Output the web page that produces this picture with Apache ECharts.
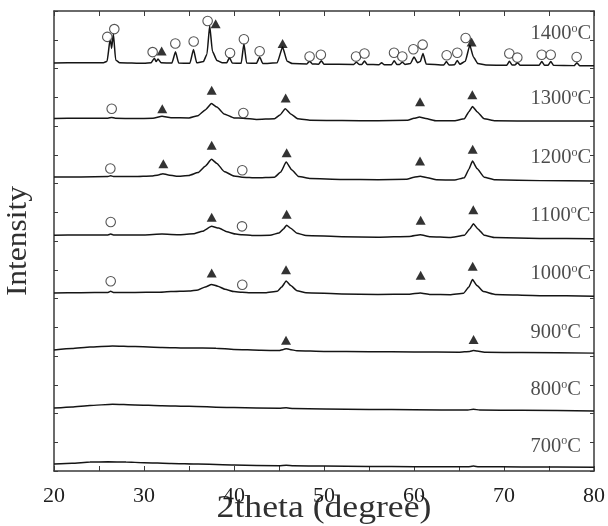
<!DOCTYPE html>
<html>
<head>
<meta charset="utf-8">
<script src="https://cdn.jsdelivr.net/npm/echarts@6/dist/echarts.min.js"></script>
<style>
  html, body { margin: 0; padding: 0; background: #fff; }
  #chart { width: 608px; height: 526px; }
</style>
</head>
<body>
<div id="chart"></div>
<script>
// XRD patterns of the samples calcined at 700–1400 °C, stacked with vertical offsets.
const temperatures = ['700', '800', '900', '1000', '1100', '1200', '1300', '1400'];

// [2θ, offset intensity] for each pattern
const xrd700 = [[20,0.24],[22,0.27],[24,0.31],[26,0.32],[28,0.31],[30,0.29],[33,0.26],[36,0.24],[40,0.21],[45,0.18],[45.8,0.2],[46.6,0.18],[50,0.17],[55,0.16],[60,0.15],[66,0.15],[66.6,0.17],[67.2,0.15],[72,0.14],[80,0.13]];
const xrd800 = [[20,2.19],[22,2.23],[24,2.28],[26.5,2.32],[29,2.3],[32,2.27],[35,2.25],[40,2.21],[45,2.18],[45.8,2.2],[46.6,2.17],[50,2.16],[55,2.14],[60,2.13],[66,2.12],[66.6,2.15],[67.3,2.12],[72,2.11],[80,2.09]];
const xrd900 = [[20,4.21],[22,4.26],[24,4.31],[26.5,4.35],[29,4.33],[32,4.3],[35,4.28],[38,4.27],[40,4.23],[43,4.2],[45,4.19],[45.5,4.23],[45.8,4.25],[46.2,4.23],[47,4.18],[50,4.16],[55,4.15],[60,4.14],[65,4.13],[66.2,4.16],[66.6,4.19],[67,4.17],[68,4.13],[72,4.12],[80,4.1]];
const xrd1000 = [[20,6.19],[23,6.2],[26,6.21],[26.3,6.25],[26.6,6.21],[29,6.21],[31.5,6.22],[33,6.24],[35,6.26],[36,6.3],[36.8,6.4],[37.5,6.49],[38.2,6.43],[39,6.32],[40,6.24],[40.9,6.22],[41.8,6.2],[43.5,6.2],[44.8,6.25],[45.3,6.4],[45.8,6.61],[46.3,6.45],[47,6.27],[48,6.2],[52,6.16],[56,6.14],[59.5,6.15],[60.7,6.19],[61.8,6.14],[64,6.13],[65.5,6.18],[66.1,6.4],[66.5,6.66],[67,6.45],[67.7,6.24],[69,6.14],[74,6.1],[80,6.08]];
const xrd1100 = [[20,8.2],[23,8.21],[26,8.21],[26.3,8.24],[26.6,8.21],[30,8.21],[32,8.24],[34,8.22],[35.5,8.25],[36.5,8.34],[37.5,8.51],[38.3,8.45],[39.2,8.32],[40.2,8.24],[40.9,8.22],[42,8.19],[44,8.2],[45,8.28],[45.5,8.42],[45.85,8.55],[46.3,8.44],[47,8.27],[48,8.19],[52,8.15],[56,8.13],[59.5,8.16],[60.7,8.22],[61.8,8.15],[64,8.12],[65.6,8.2],[66.2,8.42],[66.6,8.6],[67.1,8.42],[67.8,8.2],[69,8.12],[74,8.09],[80,8.08]];
const xrd1200 = [[20,10.23],[23,10.23],[26,10.24],[26.3,10.27],[26.6,10.24],[29,10.24],[30.8,10.26],[31.6,10.3],[32.1,10.34],[32.7,10.3],[33.6,10.25],[35,10.28],[36,10.38],[36.8,10.6],[37.5,10.84],[38.1,10.7],[38.9,10.42],[40,10.26],[40.9,10.22],[42.5,10.2],[44.5,10.22],[45.2,10.4],[45.8,10.75],[46.4,10.48],[47.2,10.24],[48.5,10.17],[52,10.14],[56,10.13],[59.2,10.15],[60,10.22],[60.7,10.25],[61.5,10.2],[62.5,10.13],[64.5,10.12],[65.6,10.2],[66.1,10.5],[66.5,10.78],[67,10.52],[67.8,10.22],[69,10.13],[74,10.1],[80,10.09]];
const xrd1300 = [[20,12.26],[23,12.27],[26,12.27],[26.4,12.3],[26.8,12.27],[29,12.26],[31,12.27],[32,12.34],[33,12.29],[35,12.28],[36,12.36],[36.8,12.56],[37.5,12.78],[38.1,12.66],[38.9,12.42],[40,12.28],[41,12.27],[42.5,12.23],[44.5,12.25],[45.1,12.38],[45.7,12.6],[46.3,12.42],[47.1,12.25],[48.5,12.2],[52,12.19],[56,12.18],[59.3,12.2],[60,12.27],[60.6,12.31],[61.3,12.26],[62.5,12.18],[64.5,12.18],[65.6,12.25],[66.1,12.5],[66.5,12.68],[67,12.5],[67.8,12.25],[69,12.18],[74,12.17],[80,12.17]];
const xrd1400 = [[20,14.19],[23,14.2],[25.5,14.2],[25.9,14.25],[26.25,15.05],[26.4,14.7],[26.6,15.2],[26.85,14.3],[27.3,14.2],[30,14.18],[30.8,14.2],[31.15,14.36],[31.35,14.24],[31.55,14.33],[31.9,14.2],[33.1,14.19],[33.5,14.58],[33.85,14.19],[35.1,14.18],[35.5,14.66],[35.85,14.2],[36.6,14.24],[37.0,14.5],[37.3,15.5],[37.6,14.6],[38.1,14.28],[38.7,14.2],[39.2,14.2],[39.5,14.38],[39.8,14.19],[40.8,14.18],[41.1,14.87],[41.4,14.19],[42.5,14.18],[42.85,14.4],[43.2,14.17],[44.8,14.2],[45.4,14.75],[45.9,14.25],[46.5,14.17],[48.1,14.16],[48.4,14.25],[48.7,14.16],[49.4,14.15],[49.7,14.27],[50,14.15],[53.3,14.14],[53.6,14.22],[53.9,14.14],[54.2,14.14],[54.5,14.26],[54.8,14.14],[56.1,14.13],[56.4,14.2],[56.7,14.13],[57.5,14.13],[57.8,14.27],[58.1,14.14],[58.4,14.14],[58.7,14.22],[59.0,14.14],[59.6,14.17],[60.0,14.4],[60.4,14.2],[60.7,14.24],[61.0,14.52],[61.35,14.16],[63.3,14.12],[63.6,14.24],[63.9,14.12],[64.5,14.13],[64.8,14.28],[65.1,14.15],[65.7,14.25],[66.2,14.81],[66.6,14.4],[67.1,14.17],[68,14.12],[70.3,14.11],[70.6,14.25],[70.9,14.12],[71.2,14.12],[71.5,14.2],[71.8,14.11],[73.9,14.11],[74.2,14.24],[74.5,14.11],[74.9,14.11],[75.2,14.24],[75.5,14.11],[77.8,14.1],[78.1,14.2],[78.4,14.1],[80,14.1]];

// phase markers: open circles and filled triangles placed above the reflections
const circleMarks = [
  [25.92,15.10],[26.7,15.37],[30.96,14.57],[33.48,14.87],[35.52,14.94],[37.07,15.65],[39.56,14.54],[41.1,15.02],[42.85,14.6],
  [48.4,14.42],[49.65,14.48],[53.56,14.42],[54.5,14.52],[57.78,14.55],[58.7,14.42],[59.93,14.67],[60.96,14.83],
  [63.63,14.46],[64.81,14.55],[65.74,15.06],[70.59,14.52],[71.48,14.38],[74.19,14.48],[75.19,14.48],[78.07,14.4],
  [26.41,12.6],[41.04,12.45],
  [26.26,10.52],[40.92,10.46],
  [26.3,8.66],[40.89,8.51],
  [26.3,6.6],[40.92,6.48]
];
const triangleMarks = [
  [31.96,14.61],[37.96,15.56],[45.4,14.87],[66.4,14.92],
  [32.03,12.6],[37.52,13.24],[45.74,12.97],[60.67,12.84],[66.48,13.09],
  [32.15,10.69],[37.52,11.33],[45.85,11.07],[60.67,10.78],[66.52,11.19],
  [37.52,8.83],[45.85,8.93],[60.74,8.72],[66.59,9.09],
  [37.52,6.89],[45.78,7.0],[60.74,6.81],[66.52,7.12],
  [45.78,4.55],[66.62,4.57]
];

const patterns = [xrd700, xrd800, xrd900, xrd1000, xrd1100, xrd1200, xrd1300, xrd1400];

const SERIF = '"Liberation Serif", "Times New Roman", serif';
const INK = '#151515';
const FRAME = '#3a3a3a';
const TEXT = '#1e1e1e';
const TITLE = '#303030';

// vertical placement of each temperature tag (in offset-intensity units)
const tagLevels = [0.86, 2.83, 4.83, 6.87, 8.9, 10.9, 12.95, 15.2];
const tagX = 72.95;

const GRID = { left: 54, right: 14, top: 11, bottom: 55 };
const W = 608, H = 526;

const chart = echarts.init(document.getElementById('chart'), null, { renderer: 'canvas' });

const series = patterns.map((d, i) => ({
  name: temperatures[i] + '°C',
  type: 'line',
  data: d,
  showSymbol: false,
  symbol: 'none',
  smooth: 0.15,
  smoothMonotone: 'x',
  lineStyle: { color: INK, width: 1.5 },
  silent: true,
  z: 2
}));

series.push({
  type: 'scatter',
  data: circleMarks,
  symbol: 'circle',
  symbolSize: 9.5,
  itemStyle: { color: '#fff', borderColor: '#2a2a2a', borderWidth: 1.1 },
  z: 4
});
series.push({
  type: 'scatter',
  data: triangleMarks,
  symbol: 'triangle',
  symbolSize: [10, 9],
  itemStyle: { color: '#000' },
  z: 4
});
series.push({
  type: 'scatter',
  data: temperatures.map((t, i) => ({ value: [tagX, tagLevels[i]], name: t })),
  symbolSize: 0,
  z: 5,
  label: {
    show: true,
    position: [0, 0],
    align: 'left',
    verticalAlign: 'middle',
    formatter: p => '{n|' + p.name + '}{o|o}{n|C}',
    rich: {
      n: { fontFamily: SERIF, fontSize: 20.5, lineHeight: 22, color: TEXT },
      o: { fontFamily: SERIF, fontSize: 12, lineHeight: 12, color: TEXT, verticalAlign: 'top' }
    }
  }
});

const xCommon = {
  type: 'value', min: 20, max: 80, interval: 5,
  axisLine: { show: true, onZero: false, lineStyle: { color: FRAME, width: 1.5 } },
  axisTick: { show: true, inside: true, length: 5, lineStyle: { color: FRAME, width: 1 } },
  splitLine: { show: false }
};
const yCommon = {
  type: 'value', min: 0, max: 16, interval: 1,
  axisLine: { show: true, onZero: false, lineStyle: { color: FRAME, width: 1.5 } },
  axisTick: { show: true, inside: true, length: 4, lineStyle: { color: FRAME, width: 1 } },
  axisLabel: { show: false },
  splitLine: { show: false }
};

const plotMidX = GRID.left + (W - GRID.left - GRID.right) / 2;
const plotMidY = GRID.top + (H - GRID.top - GRID.bottom) / 2;

chart.setOption({
  animation: false,
  backgroundColor: '#fff',
  grid: GRID,
  xAxis: [
    Object.assign({}, xCommon, {
      position: 'bottom',
      axisLabel: {
        show: true, margin: 14, fontFamily: SERIF, fontSize: 22, color: TEXT,
        formatter: v => (v % 10 === 0 ? String(v) : '')
      }
    }),
    Object.assign({}, xCommon, { position: 'top', axisLabel: { show: false } })
  ],
  yAxis: [
    Object.assign({}, yCommon, { position: 'left' }),
    Object.assign({}, yCommon, { position: 'right' })
  ],
  // axis titles, set in a slightly widened serif face
  graphic: [
    {
      type: 'text',
      x: plotMidX, y: 509,
      scaleX: 1.15,
      style: {
        text: '2theta (degree)',
        fontFamily: SERIF,
        fontSize: 31,
        fontWeight: 'normal',
        fill: TITLE,
        textAlign: 'center',
        textVerticalAlign: 'middle',
        verticalAlign: 'middle'
      }
    },
    {
      type: 'text',
      x: 18, y: plotMidY,
      rotation: Math.PI / 2,
      scaleX: 1.05,
      style: {
        text: 'Intensity',
        fontFamily: SERIF,
        fontSize: 30,
        fontWeight: 'normal',
        fill: TITLE,
        textAlign: 'center',
        textVerticalAlign: 'middle',
        verticalAlign: 'middle'
      }
    }
  ],
  series: series
});
</script>
</body>
</html>
